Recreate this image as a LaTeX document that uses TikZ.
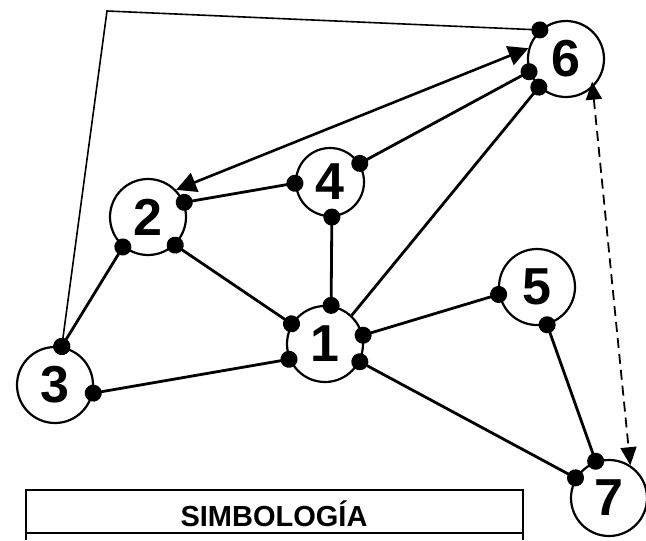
\documentclass[tikz,border=0pt]{standalone}
\usepackage{fontspec}
\setsansfont{Liberation Sans}
\usetikzlibrary{arrows.meta, positioning, calc}
\tikzset{
    vert/.style={circle, draw, line width=1.1pt, minimum size=38pt, inner sep=0pt,
                 font=\sffamily\bfseries\fontsize{26}{26}\selectfont},
    dedge/.style={{Circle[length=8.5pt]}-{Circle[length=8.5pt]}, line width=1.4pt,
                  shorten <=-4.25pt, shorten >=-4.25pt},
    hedge/.style={-{Circle[length=8.5pt]}, line width=1.4pt, shorten >=-4.25pt},
    biedge/.style={{Triangle[length=10pt, width=10pt]}-{Triangle[length=10pt, width=10pt]},
                   line width=1.3pt},
    dashedge/.style={{Triangle[length=9pt, width=8pt]}-{Triangle[length=9pt, width=8pt]},
                     line width=0.9pt, dash pattern=on 5pt off 3pt},
}

\begin{document}
\begin{tikzpicture}[
    x=0.5pt, y=-0.5pt,
    topedge/.style={{Circle[length=8.5pt]}-{Circle[length=8.5pt]}, line width=0.8pt,
                    shorten <=-4.25pt, shorten >=-4.25pt},
    tbline/.style={line width=0.6pt},
]
\useasboundingbox (0,0) rectangle (646,540);
% Nodes of the network.
\node[vert] (n1) at (325,344) {1};
\node[vert] (n2) at (148,217) {2};
\node[vert] (n3) at ( 55,385) {3};
\node[vert, minimum size=34pt] (n4) at (330,182) {4};
\node[vert] (n5) at (537,287) {5};
\node[vert] (n6) at (566, 59) {6};
\node[vert] (n7) at (609,498) {7};
\coordinate (corner) at (107,11);
% Links with a dot at each end.
\draw[dedge] (n2.22)  -- (n4.182);
\draw[dedge] (n2.230) -- (n3.80);
\draw[dedge] (n2.314) -- (n1.149);
\draw[dedge] (n4.273) -- (n1.81);
\draw[dedge] (n4.32)  -- (n6.199);
\draw[dedge] (n3.348) -- (n1.203);
\draw[dedge] (n1.13)  -- (n5.191);
\draw[dedge] (n1.333) -- (n7.149);
\draw[dedge] (n5.285) -- (n7.110);
\draw[hedge] (n1.47)  -- (n6.226);
% Long way round from 3 to 6.
\draw[topedge] (n3.80) -- (corner) -- (n6.132);
% Arrows.
\draw[biedge] (n2.44) -- (n6.164);
\draw[dashedge, shorten <=-3pt] (n6.313) -- (n7.57);
% Legend table (cut at the bottom).
\draw[tbline] (26,540) -- (26,490) -- (523,490) -- (523,540);
\draw[tbline] (26,533) -- (523,533);
\node[font=\sffamily\bfseries\fontsize{14.5}{14.5}\selectfont] (simb) at (274,514) {SIMBOLOGÍA};
\end{tikzpicture}
\end{document}
